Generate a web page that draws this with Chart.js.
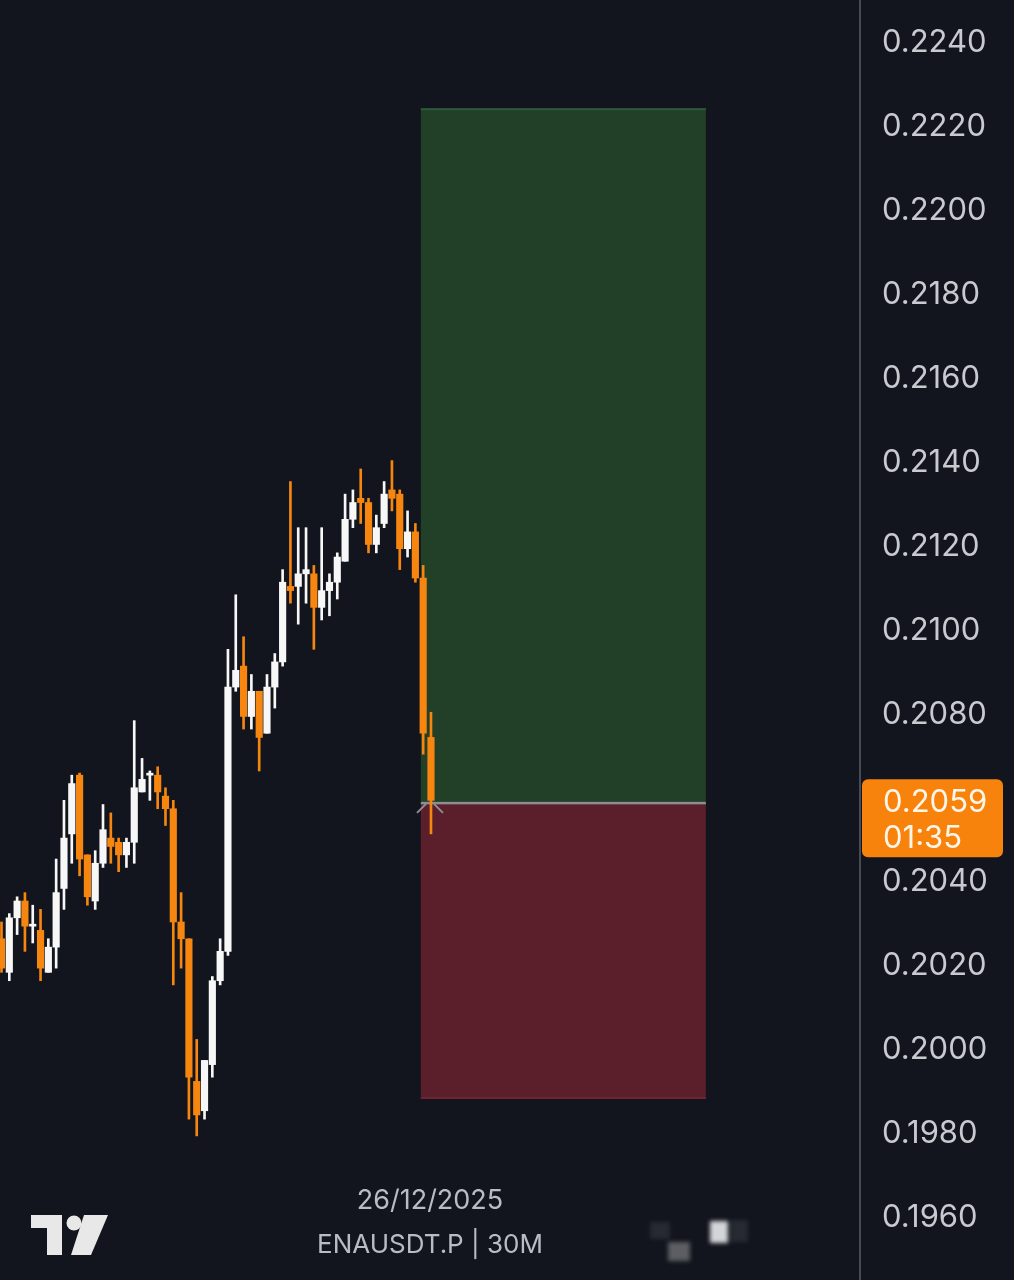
<!DOCTYPE html>
<html>
<head>
<meta charset="utf-8">
<title>ENAUSDT.P 30M</title>
<script src="https://cdn.jsdelivr.net/npm/chart.js@4.4.1/dist/chart.umd.min.js"></script>
<style>
  html, body { margin: 0; padding: 0; background: #12151d; }
  #wrap { width: 1014px; height: 1280px; position: relative; }
</style>
</head>
<body>
<div id="wrap"><canvas id="chart"></canvas></div>
<script>
// candle data, 30 minute bars, oldest first
const opens  = [0.2026, 0.2018, 0.2031, 0.2035, 0.2029, 0.2028, 0.2018, 0.2024, 0.2038, 0.2051,
                0.2065, 0.2046, 0.2035, 0.2044, 0.2050, 0.2049, 0.2046, 0.2049, 0.2061, 0.2065,
                0.2065, 0.2060, 0.2057, 0.2030, 0.2026, 0.1992, 0.1985, 0.1996, 0.2016, 0.2023,
                0.2086, 0.2091, 0.2079, 0.2085, 0.2075, 0.2086, 0.2092, 0.2110, 0.2110, 0.2113,
                0.2113, 0.2105, 0.2109, 0.2111, 0.2116, 0.2126, 0.2131, 0.2130, 0.2120, 0.2125,
                0.2133, 0.2132, 0.2119, 0.2123, 0.2112, 0.2074];
const highs  = [0.2030, 0.2032, 0.2036, 0.2037, 0.2034, 0.2033, 0.2026, 0.2045, 0.2059, 0.2065,
                0.20655, 0.2046, 0.2047, 0.2058, 0.2056, 0.2050, 0.2050, 0.2078, 0.2069, 0.2066,
                0.2067, 0.2062, 0.2059, 0.2037, 0.2026, 0.2002, 0.1997, 0.2017, 0.2026, 0.2095,
                0.2108, 0.2098, 0.2089, 0.2085, 0.2089, 0.2094, 0.2114, 0.2135, 0.2124, 0.2124,
                0.2115, 0.2124, 0.2113, 0.2118, 0.2132, 0.2133, 0.2138, 0.2131, 0.2127, 0.2135,
                0.2140, 0.2133, 0.2128, 0.2125, 0.2115, 0.2080];
const lows   = [0.2018, 0.2016, 0.2027, 0.2023, 0.2025, 0.2016, 0.2018, 0.2019, 0.2033, 0.2044,
                0.2041, 0.2034, 0.2033, 0.2043, 0.2044, 0.2042, 0.2043, 0.2044, 0.2061, 0.2059,
                0.2057, 0.2053, 0.2015, 0.2019, 0.1983, 0.1979, 0.1983, 0.1993, 0.2015, 0.2022,
                0.2085, 0.2076, 0.2076, 0.2066, 0.2075, 0.2081, 0.2091, 0.2106, 0.2101, 0.2106,
                0.2095, 0.2102, 0.2103, 0.2107, 0.2116, 0.2124, 0.2125, 0.2118, 0.2118, 0.2124,
                0.2128, 0.2114, 0.2117, 0.2111, 0.2070, 0.2051];
const closes = [0.2019, 0.2031, 0.2035, 0.2029, 0.2029, 0.2019, 0.2024, 0.2037, 0.2050, 0.2063,
                0.2045, 0.2036, 0.2044, 0.2052, 0.2048, 0.2046, 0.2049, 0.2062, 0.2064, 0.2065,
                0.2061, 0.2057, 0.2030, 0.2026, 0.1993, 0.1984, 0.1997, 0.2016, 0.2023, 0.2086,
                0.2090, 0.2079, 0.2085, 0.2074, 0.2086, 0.2092, 0.2111, 0.2109, 0.2113, 0.2114,
                0.2105, 0.2109, 0.2111, 0.2117, 0.2126, 0.2130, 0.2130, 0.2120, 0.2124, 0.2132,
                0.2131, 0.2119, 0.2123, 0.2112, 0.2075, 0.2059];

const priceTicks = [0.1960, 0.1980, 0.2000, 0.2020, 0.2040, 0.2060, 0.2080, 0.2100,
                    0.2120, 0.2140, 0.2160, 0.2180, 0.2200, 0.2220, 0.2240];

// long position tool: bar span and price levels
const tradeSpan = [53.7, 90.2];
const stopLoss = 0.19878;
const entry = 0.20584;
const takeProfit = 0.2224;

const lastPrice = 0.2059;
const countdown = '01:35';
const dateLabel = '26/12/2025';
const symbolLabel = 'ENAUSDT.P | 30M';

const UP = '#f7f7f7';
const DOWN = '#f6860f';

const bodies = opens.map((o, i) => ({ x: i, y: [o, closes[i]] }));
const wicks = opens.map((o, i) => ({ x: i, y: [lows[i], highs[i]] }));
const candleColor = c => closes[c.dataIndex] >= opens[c.dataIndex] ? UP : DOWN;

Chart.defaults.font.family = 'Inter, Roboto, sans-serif';

const positionBox = {
  id: 'positionBox',
  beforeDatasetsDraw(chart) {
    const { ctx, scales: { x, y } } = chart;
    const x0 = x.getPixelForValue(tradeSpan[0]);
    const x1 = x.getPixelForValue(tradeSpan[1]);
    const yTp = y.getPixelForValue(takeProfit);
    const yE = y.getPixelForValue(entry);
    const ySl = y.getPixelForValue(stopLoss);
    ctx.save();
    ctx.fillStyle = '#223f28';
    ctx.fillRect(x0, yTp, x1 - x0, yE - yTp);
    ctx.fillStyle = '#5a1f2a';
    ctx.fillRect(x0, yE, x1 - x0, ySl - yE);
    ctx.fillStyle = '#30583a';
    ctx.fillRect(x0, yTp, x1 - x0, 2);
    ctx.fillStyle = '#6c2633';
    ctx.fillRect(x0, ySl - 2, x1 - x0, 2);
    ctx.fillStyle = '#8b8e94';
    ctx.fillRect(x0, yE - 1, x1 - x0, 2.5);
    ctx.restore();
  },
  afterDatasetsDraw(chart) {
    // small cursor mark under the last candle
    const { ctx, scales: { x, y } } = chart;
    const cx = x.getPixelForValue(opens.length - 1);
    const cy = y.getPixelForValue(entry) + 1;
    ctx.save();
    ctx.strokeStyle = '#8b8e94';
    ctx.lineWidth = 2;
    ctx.beginPath();
    ctx.moveTo(cx - 14, cy + 9); ctx.lineTo(cx - 5, cy);
    ctx.moveTo(cx + 3, cy); ctx.lineTo(cx + 12, cy + 9);
    ctx.stroke();
    ctx.restore();
  }
};

const overlay = {
  id: 'overlay',
  afterDraw(chart) {
    const { ctx, chartArea, scales: { y } } = chart;
    ctx.save();
    // last price tag
    const yp = y.getPixelForValue(lastPrice);
    const bx = chartArea.right + 2, bw = 141, by = yp - 21, bh = 78;
    ctx.fillStyle = '#f7820c';
    ctx.beginPath();
    ctx.roundRect(bx, by, bw, bh, 6);
    ctx.fill();
    ctx.fillStyle = '#fff6ea';
    ctx.font = '31px Inter, Roboto, sans-serif';
    ctx.textBaseline = 'middle';
    ctx.textAlign = 'left';
    ctx.fillText(lastPrice.toFixed(4), chartArea.right + 23, yp + 2);
    ctx.fillText(countdown, chartArea.right + 23, yp + 38);

    // date and symbol
    ctx.fillStyle = '#b9bcc2';
    ctx.textAlign = 'center';
    ctx.font = '27px Inter, Roboto, sans-serif';
    ctx.fillText(dateLabel, 430, 1201);
    ctx.font = '26px Inter, Roboto, sans-serif';
    ctx.fillText(symbolLabel, 430, 1245);

    // TradingView mark
    ctx.fillStyle = '#e8e8e8';
    ctx.fillRect(31, 1215, 31, 13);
    ctx.fillRect(47, 1215, 15, 40);
    ctx.beginPath();
    ctx.arc(74, 1223, 7.5, 0, Math.PI * 2);
    ctx.fill();
    ctx.beginPath();
    ctx.moveTo(84, 1215); ctx.lineTo(108, 1215); ctx.lineTo(91, 1255); ctx.lineTo(71, 1255);
    ctx.closePath();
    ctx.fill();

    // blurred watermark blocks
    ctx.filter = 'blur(2px)';
    ctx.fillStyle = '#262a31';
    ctx.fillRect(650, 1222, 20, 17);
    ctx.fillRect(730, 1220, 18, 22);
    ctx.fillStyle = '#5c5e63';
    ctx.fillRect(668, 1242, 22, 19);
    ctx.fillStyle = '#d3d5d8';
    ctx.fillRect(710, 1221, 18, 22);
    ctx.restore();
  }
};

new Chart(document.getElementById('chart'), {
  type: 'bar',
  data: {
    datasets: [
      {
        label: 'body',
        data: bodies,
        backgroundColor: candleColor,
        barThickness: 6.5,
        minBarLength: 2,
        grouped: false
      },
      {
        label: 'wick',
        data: wicks,
        backgroundColor: candleColor,
        barThickness: 2,
        grouped: false
      }
    ]
  },
  options: {
    responsive: true,
    maintainAspectRatio: false,
    animation: false,
    layout: { padding: 0 },
    plugins: { legend: { display: false }, tooltip: { enabled: false } },
    scales: {
      x: {
        type: 'linear',
        display: false,
        offset: false,
        min: -0.192,
        max: 109.94
      },
      y: {
        position: 'right',
        min: 0.194465,
        max: 0.22498,
        grid: { display: false, drawTicks: false },
        border: { display: true, color: '#474b54', width: 2 },
        ticks: {
          color: '#c8cacf',
          font: { size: 31 },
          padding: 22,
          labelOffset: 2,
          callback: v => v.toFixed(4)
        },
        afterBuildTicks: s => { s.ticks = priceTicks.map(v => ({ value: v })); },
        afterFit: s => { s.width = 154; s.paddingTop = 0; s.paddingBottom = 0; }
      }
    }
  },
  plugins: [positionBox, overlay]
});
</script>
</body>
</html>
